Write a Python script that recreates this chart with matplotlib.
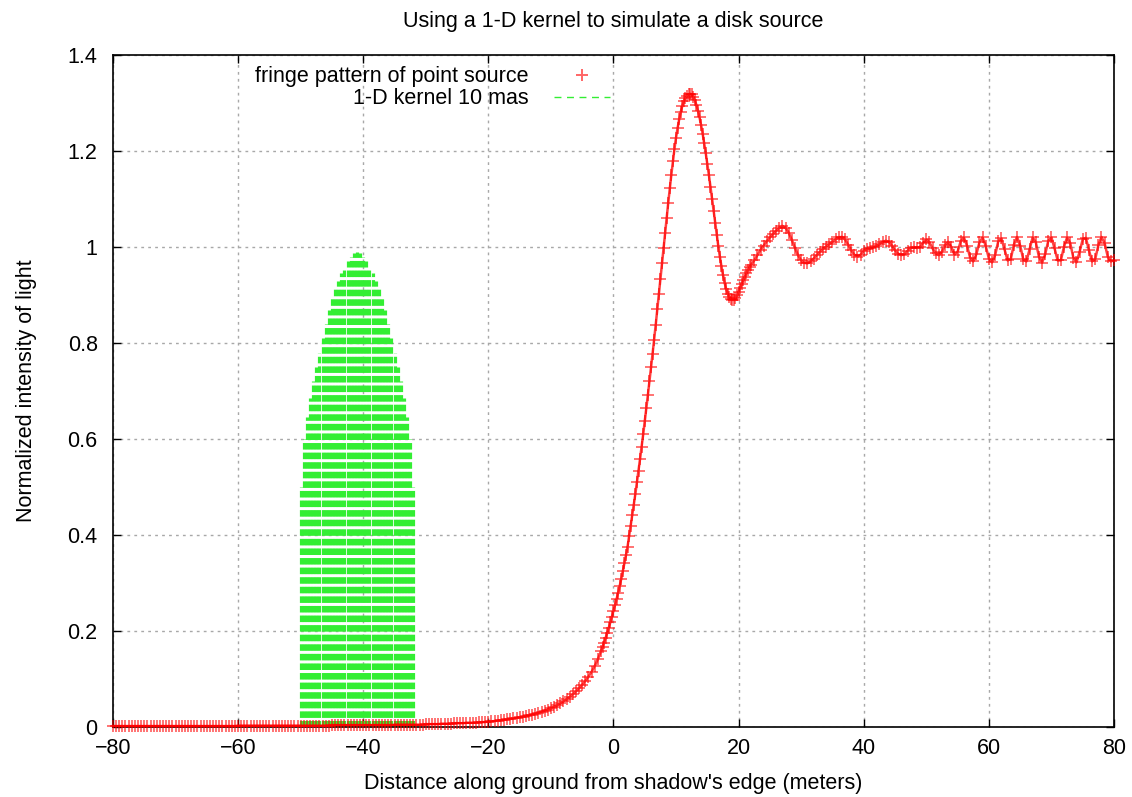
import numpy as np
import matplotlib.pyplot as plt
from matplotlib.lines import Line2D
from matplotlib.ticker import FormatStrFormatter

plt.rcParams['font.family'] = ['Liberation Sans', 'DejaVu Sans']

# fringe pattern of a point source
# segment 1: -80 .. -20, step 0.5 m
x_far = np.arange(-80, -19.9, 0.5)
y_far = [0.002, 0.002, 0.002, 0.002, 0.002, 0.002, 0.002, 0.002, 0.002, 0.002,
         0.002, 0.002, 0.002, 0.002, 0.002, 0.002, 0.002, 0.002, 0.002, 0.002,
         0.002, 0.002, 0.002, 0.002, 0.002, 0.002, 0.002, 0.002, 0.002, 0.002,
         0.002, 0.002, 0.002, 0.002, 0.002, 0.002, 0.002, 0.002, 0.002, 0.002,
         0.003, 0.003, 0.003, 0.003, 0.003, 0.003, 0.003, 0.003, 0.003, 0.003,
         0.003, 0.003, 0.003, 0.003, 0.003, 0.003, 0.003, 0.003, 0.003, 0.003,
         0.003, 0.003, 0.003, 0.003, 0.003, 0.003, 0.003, 0.003, 0.003, 0.003,
         0.004, 0.004, 0.004, 0.004, 0.004, 0.004, 0.004, 0.004, 0.004, 0.004,
         0.004, 0.004, 0.004, 0.004, 0.004, 0.004, 0.004, 0.004, 0.004, 0.004,
         0.005, 0.005, 0.005, 0.005, 0.005, 0.005, 0.005, 0.005, 0.005, 0.005,
         0.006, 0.006, 0.006, 0.006, 0.006, 0.007, 0.007, 0.007, 0.007, 0.008,
         0.008, 0.008, 0.008, 0.009, 0.009, 0.009, 0.009, 0.010, 0.010, 0.0105,
         0.011]
# segment 2: -19.5 .. -2.5, step 0.5 m
x_rise = np.arange(-19.5, -2.0, 0.5)
y_rise = [0.0117, 0.0124, 0.0132, 0.0140, 0.0148, 0.0158, 0.0167, 0.0178,
          0.0189, 0.0200, 0.0214, 0.0228, 0.0243, 0.0260, 0.0277, 0.0296,
          0.0317, 0.0340, 0.0365, 0.0392, 0.0422, 0.0455, 0.0493, 0.0534,
          0.0578, 0.0627, 0.0682, 0.0743, 0.0809, 0.0880, 0.0963, 0.105,
          0.115, 0.127, 0.141]
# segment 3: -2 .. 22, step 0.25 m
x_main = np.arange(-2.0, 22.01, 0.25)
y_main = [0.158, 0.167, 0.176, 0.186, 0.196, 0.207, 0.218, 0.230,
          0.242, 0.254, 0.267, 0.280, 0.294, 0.309, 0.325, 0.341,
          0.358, 0.376, 0.398, 0.419, 0.441, 0.463, 0.486, 0.510,
          0.534, 0.559, 0.584, 0.610, 0.637, 0.664, 0.692, 0.720,
          0.749, 0.778, 0.807, 0.838, 0.870, 0.902, 0.934, 0.966,
          0.998, 1.030, 1.061, 1.092, 1.122, 1.151, 1.179, 1.205,
          1.228, 1.248, 1.266, 1.281, 1.294, 1.304, 1.311, 1.315,
          1.318, 1.319, 1.318, 1.313, 1.306, 1.296, 1.284, 1.270,
          1.254, 1.236, 1.216, 1.195, 1.173, 1.150, 1.126, 1.101,
          1.076, 1.051, 1.026, 1.002, 0.980, 0.960, 0.942, 0.926,
          0.913, 0.903, 0.896, 0.892, 0.890, 0.890, 0.893, 0.899,
          0.907, 0.915, 0.923, 0.931, 0.938, 0.945, 0.952, 0.958,
          0.963]
# segment 4: 22.5 .. 80, step 0.5 m
x_tail = np.arange(22.5, 80.01, 0.5)
y_tail = [0.972, 0.983, 0.994, 1.003, 1.012, 1.020, 1.027, 1.034, 1.040, 1.044,
          1.040, 1.030, 1.015, 0.998, 0.983, 0.972, 0.967, 0.966, 0.970, 0.976,
          0.983, 0.990, 0.996, 1.001, 1.006, 1.011, 1.016, 1.020, 1.021, 1.016,
          1.005, 0.993, 0.984, 0.980, 0.984, 0.992, 0.996, 0.997, 0.999, 1.002,
          1.006, 1.010, 1.013, 1.011, 1.003, 0.993, 0.986, 0.983, 0.985, 0.992,
          0.998, 1.000, 0.998, 1.000, 1.009, 1.016, 1.010, 0.997, 0.987, 0.983,
          0.990, 1.004, 1.011, 1.000, 0.984, 0.990, 1.012, 1.020, 1.003, 0.978,
          0.970, 0.985, 1.010, 1.020, 1.002, 0.976, 0.968, 0.983, 1.012, 1.018,
          0.995, 0.972, 0.975, 1.005, 1.021, 1.003, 0.974, 0.970, 0.995, 1.020,
          1.010, 0.980, 0.967, 0.985, 1.013, 1.020, 0.997, 0.972, 0.972, 1.000,
          1.020, 1.008, 0.978, 0.968, 0.990, 1.016, 1.019, 0.993, 0.970, 0.975,
          1.004, 1.021, 1.008, 0.980, 0.970, 0.972]

fringe_x = np.concatenate([x_far, x_rise, x_main, x_tail])
fringe_y = np.concatenate([y_far, y_rise, y_main, y_tail])

# 1-D kernel (10 mas disk), drawn as impulses
kernel_x = np.arange(-50.0, -31.99, 0.5)
kernel_y = [0.50, 0.60, 0.645, 0.685, 0.72, 0.75, 0.78, 0.81, 0.84, 0.868,
            0.893, 0.912, 0.93, 0.945, 0.958, 0.97, 0.98, 0.988, 0.990, 0.988,
            0.98, 0.97, 0.958, 0.945, 0.93, 0.912, 0.893, 0.868, 0.84, 0.81,
            0.78, 0.75, 0.72, 0.685, 0.645, 0.60, 0.50]

green = '#33ee33'
fs = 15.5

fig = plt.figure(figsize=(11.32, 7.97), dpi=100)
ax = fig.add_axes([0.0998, 0.0878, 0.8843, 0.8432])

ax.vlines(kernel_x, 0, kernel_y, colors=green, linewidth=2.3,
          linestyles=[(0, (2.05, 0.95))], zorder=2)
ax.plot(fringe_x, fringe_y, ls='-', lw=1.8, color='red', alpha=0.75,
        clip_on=False, zorder=3)
ax.plot(fringe_x, fringe_y, ls='none', marker='+', ms=8.5, mew=1.4,
        color='red', alpha=0.55, clip_on=False, zorder=3)

ax.set_xlim(-80, 80)
ax.set_ylim(0, 1.4)
ax.set_xticks(np.arange(-80, 81, 20))
ax.set_yticks(np.arange(0, 1.41, 0.2))
ax.yaxis.set_major_formatter(FormatStrFormatter('%g'))
ax.tick_params(direction='in', length=6, width=1, top=True, right=True,
               labelsize=fs, pad=8)
ax.tick_params(axis='y', pad=11)
ax.grid(True, color='#a8a8a8', linestyle=(0, (2, 3)), linewidth=1)
ax.set_axisbelow(True)
for s in ax.spines.values():
    s.set_linewidth(1.2)

ax.set_title('Using a 1-D kernel to simulate a disk source', fontsize=fs, pad=20)
ax.set_xlabel("Distance along ground from shadow's edge (meters)", fontsize=fs, labelpad=10)
ax.set_ylabel('Normalized intensity of light', fontsize=fs, labelpad=22)

handles = [Line2D([], [], ls='none', marker='+', ms=8.5, mew=1.4, color='red', alpha=0.6),
           Line2D([], [], color=green, lw=1, ls=(0, (5, 4)))]
ax.legend(handles, ['fringe pattern of point source', '1-D kernel 10 mas'],
          loc='upper right', bbox_to_anchor=(0.4965, 0.983), frameon=False,
          markerfirst=False, fontsize=fs, handlelength=2.6, handletextpad=1.2,
          labelspacing=0.05, borderpad=0, borderaxespad=0)

fig.savefig('out.png', dpi=100)
